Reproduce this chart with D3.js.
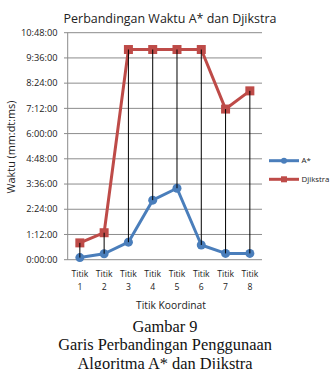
<!DOCTYPE html>
<html><head><meta charset="utf-8">
<script src="https://cdn.jsdelivr.net/npm/d3@7"></script>
<style>html,body{margin:0;padding:0;background:#fff;}svg{display:block;}</style>
</head><body>
<svg id="c" width="336" height="369"></svg>
<script>
const categories = ["Titik 1","Titik 2","Titik 3","Titik 4","Titik 5","Titik 6","Titik 7","Titik 8"];
// values in minutes of the h:mm:ss axis format
const aStar    = [6, 17, 50, 170, 204, 42, 18, 18];
const dijkstra = [48, 77, 600, 600, 600, 600, 430, 482];
const yTickValues = [0, 72, 144, 216, 288, 360, 432, 504, 576, 648];
const yTickLabels = ["0:00:00","1:12:00","2:24:00","3:36:00","4:48:00","6:00:00","7:12:00","8:24:00","9:36:00","10:48:00"];
const seriesNames = ["A*", "Djikstra"];
const title = "Perbandingan Waktu A* dan Djikstra";
const yTitle = "Waktu (mm:dt:ms)";
const xTitle = "Titik Koordinat";
const caption = ["Gambar 9", "Garis Perbandingan Penggunaan", "Algoritma A* dan Djikstra"];

const svg = d3.select("#c");
const sans = "'Open Sans', sans-serif";
const serif = "'Liberation Serif', 'Times New Roman', serif";
const blue = "#4A7EBB", red = "#BE4B48", grid = "#8C8C8C";

function fit(t, target){ const n=t.node(); const w=n.getComputedTextLength(); const fs=parseFloat(t.attr("font-size")); t.attr("font-size", fs*target/w); return fs*target/w; }

const x = d3.scaleBand().domain(categories).range([67.7, 262]);
const y = d3.scaleLinear().domain([0, 648]).range([259.7, 32.7]);
const cx = d => x(d) + x.bandwidth()/2;

// title
const tt = svg.append("text").attr("x",170).attr("y",22.7).attr("text-anchor","middle")
  .attr("font-family",sans).attr("font-size",12).attr("fill","#222").text(title);
fit(tt, 213);

// gridlines
svg.append("g").selectAll("line").data(yTickValues).join("line")
  .attr("x1",64).attr("x2",262).attr("y1",d=>y(d)).attr("y2",d=>y(d))
  .attr("stroke",grid).attr("stroke-width",1);
svg.append("line").attr("x1",67.7).attr("x2",67.7).attr("y1",y(648)).attr("y2",y(0)).attr("stroke",grid);

// y tick labels
const yl = svg.append("g").selectAll("text").data(yTickValues).join("text")
  .attr("x",57.5).attr("y",d=>y(d)).attr("dy","0.35em").attr("text-anchor","end")
  .attr("font-family",sans).attr("font-size",8).attr("fill","#222").text((d,i)=>yTickLabels[i]);
const ylfs = fit(d3.select(yl.nodes()[9]), 36.6);
yl.attr("font-size", ylfs);

// x tick labels
const xl = svg.append("g").selectAll("text").data(categories).join("text")
  .attr("text-anchor","middle").attr("font-family",sans).attr("font-size",8).attr("fill","#222");
xl.each(function(d){
  const parts = d.split(" ");
  const t = d3.select(this);
  t.append("tspan").attr("x",cx(d)).attr("y",276.5).text(parts[0]);
  t.append("tspan").attr("x",cx(d)).attr("y",290).text(parts[1]);
});
// fit "Titik" width to ~16.7
{ const tmp = svg.append("text").attr("font-family",sans).attr("font-size",8).text("Titik");
  const fs = fit(tmp, 16.7); tmp.remove(); xl.attr("font-size", fs); }

// axis titles
const xt = svg.append("text").attr("x",171).attr("y",309).attr("text-anchor","middle")
  .attr("font-family",sans).attr("font-size",8).attr("fill","#222").text(xTitle);
fit(xt, 70);
const yt = svg.append("text").attr("transform","translate(14.5,147) rotate(-90)").attr("text-anchor","middle")
  .attr("font-family",sans).attr("font-size",9).attr("fill","#222").text(yTitle);
fit(yt, 93);

// series lines
const line = d3.line().x((d,i)=>cx(categories[i])).y(d=>y(d));
svg.append("path").datum(dijkstra).attr("d",line).attr("fill","none").attr("stroke",red).attr("stroke-width",3).attr("stroke-linejoin","round");
svg.append("path").datum(aStar).attr("d",line).attr("fill","none").attr("stroke",blue).attr("stroke-width",3).attr("stroke-linejoin","round");

// markers
svg.append("g").selectAll("rect").data(dijkstra).join("rect")
  .attr("x",(d,i)=>cx(categories[i])-4.5).attr("y",d=>y(d)-4.5).attr("width",9).attr("height",9).attr("fill",red);
svg.append("g").selectAll("circle").data(aStar).join("circle")
  .attr("cx",(d,i)=>cx(categories[i])).attr("cy",d=>y(d)).attr("r",4.5).attr("fill",blue);

// high-low lines
svg.append("g").selectAll("line").data(categories).join("line")
  .attr("x1",d=>cx(d)).attr("x2",d=>cx(d))
  .attr("y1",(d,i)=>y(Math.max(aStar[i],dijkstra[i])))
  .attr("y2",(d,i)=>y(Math.min(aStar[i],dijkstra[i])))
  .attr("stroke","#000").attr("stroke-width",1);

// legend
const lg = svg.append("g");
[[seriesNames[0], blue, 160.7, "c"], [seriesNames[1], red, 179.3, "s"]].forEach(([name,col,ly,m])=>{
  lg.append("line").attr("x1",269).attr("x2",299).attr("y1",ly).attr("y2",ly).attr("stroke",col).attr("stroke-width",3);
  if (m==="c") lg.append("circle").attr("cx",284).attr("cy",ly).attr("r",3).attr("fill",col);
  else lg.append("rect").attr("x",281).attr("y",ly-3).attr("width",6).attr("height",6).attr("fill",col);
  lg.append("text").attr("x",301.5).attr("y",ly).attr("dy","0.35em").attr("font-family",sans)
    .attr("font-size",7).attr("fill","#222").text(name);
});
{ const tmp = svg.append("text").attr("font-family",sans).attr("font-size",7).text("Djikstra");
  const fs = fit(tmp, 28); tmp.remove(); lg.selectAll("text").attr("font-size", fs); }

// caption
const cap = svg.append("g").selectAll("text").data(caption).join("text")
  .attr("x",165).attr("y",(d,i)=>331.5+i*18.5).attr("text-anchor","middle")
  .attr("font-family",serif).attr("font-size",16).attr("fill","#111").text(d=>d);
const cfs = fit(d3.select(cap.nodes()[1]), 214);
cap.attr("font-size", cfs);
</script>
</body></html>
